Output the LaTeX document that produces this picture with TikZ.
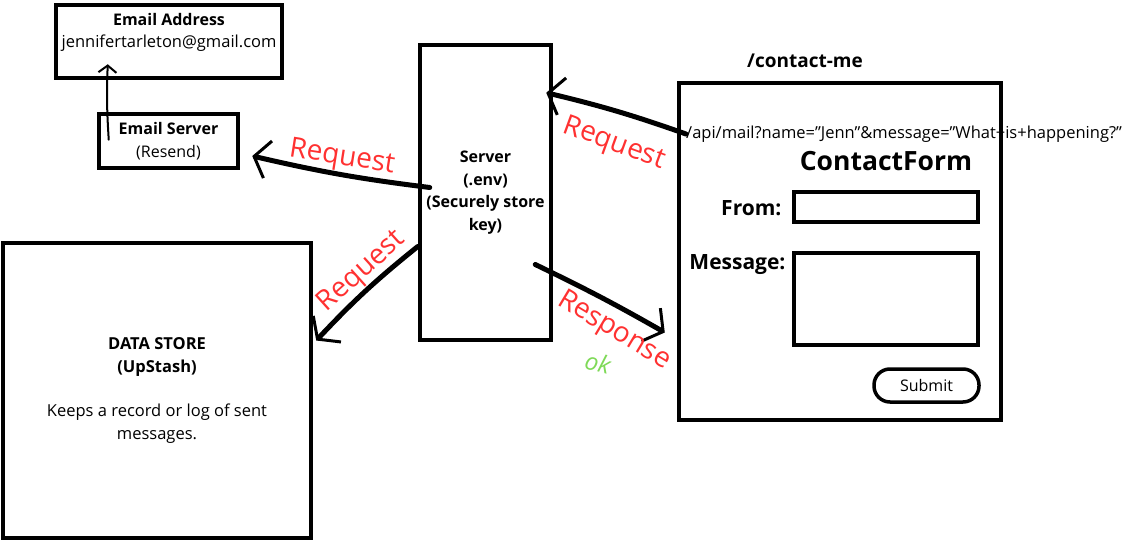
\documentclass[tikz,border=0pt]{standalone}
\usepackage{fontspec}
\setmainfont{Open Sans}
\usetikzlibrary{arrows.meta,positioning}
\definecolor{reqred}{HTML}{FF3131}
\definecolor{okgreen}{HTML}{7ED957}
\tikzset{
  box/.style={draw,line width=4.5pt,inner sep=0pt,align=center},
  field/.style={draw,line width=3.5pt,inner sep=0pt},
  hand/.style={line width=5pt,line cap=round,
    -{Straight Barb[length=14pt,width=38pt,line width=3pt]}},
  thinarrow/.style={line width=2pt,line cap=round,
    -{Straight Barb[length=7pt,width=18pt,line width=2pt]}},
  reqtext/.style={text=reqred,font=\fontsize{28}{28}\selectfont,inner sep=0pt},
  plain/.style={font=\fontsize{16.5}{22.5}\selectfont,inner sep=0pt,align=center},
}
\begin{document}
\begin{tikzpicture}[x=1pt,y=-1pt]
  \useasboundingbox (0,0) rectangle (1129,543);
  % email side
  \node[box,minimum width=226pt,minimum height=73pt] (mailaddr) at (169,41.5) {};
  \node[plain,font=\bfseries\fontsize{16}{18}\selectfont] (mailtitle) at (169,20) {Email Address};
  \node[plain] (mailtext) at (169,43) {jennifertarleton@gmail.com};
  \node[box,plain,font=\fontsize{16}{23}\selectfont,minimum width=139pt,minimum height=54pt] (mailsrv) at (168.5,141)
    {\textbf{Email Server}\\(Resend)};
  % server and data store
  \node[box,plain,font=\bfseries\fontsize{16}{22.5}\selectfont,
    minimum width=131pt,minimum height=295pt] (server) at (485.5,192.5)
    {Server\\(.env)\\(Securely store\\key)};
  \node[box,plain,minimum width=308pt,minimum height=295pt] (store) at (157,390.5)
    {\textbf{DATA STORE}\\\textbf{(UpStash)}\\[22pt]Keeps a record or log of sent\\messages.};
  % contact form
  \node[font=\bfseries\fontsize{19}{19}\selectfont] (route) at (805,61) {/contact-me};
  \node[anchor=west,inner sep=0pt,font=\fontsize{16.5}{16.5}\selectfont] (url) at (686,134)
    {/api/mail?name=”Jenn”\&message=”What+is+happening?”};
  \node[box,minimum width=322pt,minimum height=337pt] (form) at (840,251.5) {};
  \node[font=\bfseries\fontsize{26.5}{26.5}\selectfont] (formtitle) at (886,161) {ContactForm};
  \node[anchor=east,font=\bfseries\fontsize{21}{21}\selectfont] (fromlbl) at (785,208) {From:};
  \node[field,minimum width=184pt,minimum height=30pt] (fromfield) at (886,207) {};
  \node[anchor=east,font=\bfseries\fontsize{21}{21}\selectfont] (msglbl) at (789,265) {Message:};
  \node[field,minimum width=184pt,minimum height=92pt] (msgfield) at (886,299) {};
  \node[field,rounded corners=16pt,minimum width=105pt,minimum height=33pt,
    font=\fontsize{16}{16}\selectfont] (submit) at (926.5,385.5) {Submit};
  % connectors
  \draw[thinarrow] ([xshift=12pt,yshift=-28pt]mailsrv.north west)
    to[bend left=3] ([xshift=54pt,yshift=16pt]mailaddr.south west);
  \draw[hand] (url.west) to[bend right=3] ([xshift=-7pt,yshift=-50pt]server.north east);
  \draw[hand] ([xshift=12pt,yshift=5pt]server.west) to[bend left=3] ([xshift=12pt,yshift=-15pt]mailsrv.east);
  \draw[hand] ([yshift=-54pt]server.west) to[bend right=4] ([xshift=3pt,yshift=50pt]store.east);
  \draw[hand] ([xshift=-18pt,yshift=-72pt]server.east) to[bend left=2] ([xshift=-12pt,yshift=-81pt]form.west);
  % labels
  \node[reqtext,rotate=-20] (req1) at (614,144) {Request};
  \node[reqtext,rotate=-9] (req2) at (342,158) {Request};
  \node[reqtext,rotate=42] (req3) at (362,272) {Request};
  \node[reqtext,rotate=-31] (resp) at (614,331) {Response};
  \node[text=okgreen,font=\itshape\fontsize{24}{24}\selectfont,rotate=-15] (ok) at (598,363) {ok};
\end{tikzpicture}
\end{document}
